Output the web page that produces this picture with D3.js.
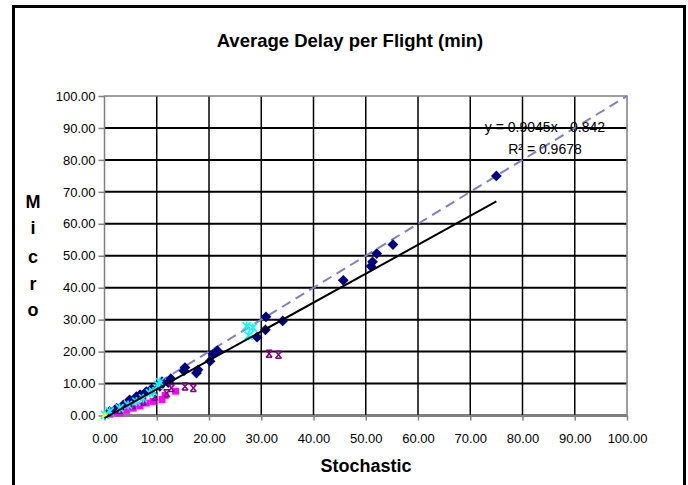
<!DOCTYPE html>
<html>
<head>
<meta charset="utf-8">
<script src="https://cdn.jsdelivr.net/npm/d3@7"></script>
<style>
  body { margin: 0; background: #fff; }
  svg { display: block; font-family: Arial, 'Liberation Sans', sans-serif; }
  .tick-label { font-size: 13px; fill: #000; }
  .eq-label { font-size: 14px; fill: #000; }
  .title { font-size: 18.5px; font-weight: bold; }
  .axis-title { font-size: 18px; font-weight: bold; }
</style>
</head>
<body>
<svg class="chart" width="688" height="485"></svg>
<script>
// values
const axisTicks = [0, 10, 20, 30, 40, 50, 60, 70, 80, 90, 100];

const diamondX = [75, 55.2, 52.1, 51.3, 51.0, 45.7, 34.1, 30.9, 30.8, 29.2, 21.6, 20.8, 20.2, 17.9, 17.6, 15.4, 15.2, 12.7, 12.2, 11.0, 10.6, 9.0, 8.0, 6.8, 6.1, 4.8, 3.6, 2.3, 1.0];
const diamondY = [75, 53.5, 50.7, 48.1, 46.7, 42.3, 29.6, 30.9, 26.8, 24.5, 20.3, 19.3, 17.0, 14.3, 13.3, 15.0, 14.0, 11.5, 10.3, 10.6, 9.1, 8.3, 7.5, 6.5, 5.9, 4.9, 3.3, 2.3, 1.3];

const squareX = [13.6, 11.6, 11.0, 9.3, 8.0, 6.8, 5.5, 4.2, 2.9, 2.0, 1.0];
const squareY = [7.6, 6.3, 5.0, 4.4, 3.9, 3.0, 2.3, 1.6, 0.8, 1.0, 0.4];

const barStarX = [33.3, 31.5, 17.0, 15.4, 12.8, 11.9, 9.6, 7.4, 5.4, 2.9];
const barStarY = [19.0, 19.3, 8.6, 9.1, 8.6, 7.0, 5.9, 4.4, 3.3, 1.8];

const starX = [28.4, 27.2, 27.6, 10.6, 10.3, 9.3, 8.7, 7.4, 6.1, 4.5, 2.9, 1.0, 0.1];
const starY = [27.5, 28.0, 25.0, 10.5, 9.6, 7.5, 7.0, 5.4, 4.4, 3.3, 2.3, 1.3, 0.2];

const triangleX = [0.1];
const triangleY = [0.0];

const trendSlope = 0.9045;
const trendIntercept = -0.842;
const trendRange = [0, 75];
const trendText = ['y = 0.9045x - 0.842', 'R² = 0.9678'];

const zip = (xs, ys) => xs.map((x, i) => ({ x, y: ys[i] }));

const startApp = () => {
  const svg = d3.select('.chart');
  const plot = { left: 104.5, right: 627, top: 96, bottom: 415.5 };
  const xScale = d3.scaleLinear().domain([0, 100]).range([plot.left, plot.right]);
  const yScale = d3.scaleLinear().domain([0, 100]).range([plot.bottom, plot.top]);

  // outer frame, open at the bottom
  svg.append('path')
    .attr('d', 'M13.5,490 V6.5 H684.5 V490')
    .attr('fill', 'none').attr('stroke', '#000').attr('stroke-width', 3);

  svg.append('text').attr('class', 'title')
    .attr('x', 350).attr('y', 47).attr('text-anchor', 'middle')
    .text('Average Delay per Flight (min)');

  svg.append('text').attr('class', 'axis-title')
    .attr('x', 366).attr('y', 472).attr('text-anchor', 'middle')
    .text('Stochastic');

  const microLetters = ['M', 'i', 'c', 'r', 'o'];
  const microY = [208, 234, 263, 290, 316];
  svg.selectAll('.micro').data(microLetters).enter().append('text')
    .attr('class', 'axis-title micro')
    .attr('x', 33).attr('y', (d, i) => microY[i]).attr('text-anchor', 'middle')
    .text(d => d);

  // gridlines
  const grid = svg.append('g');
  grid.selectAll('.hgrid').data(axisTicks.slice(0, -1)).enter().append('line')
    .attr('x1', plot.left).attr('x2', plot.right)
    .attr('y1', d => yScale(d)).attr('y2', d => yScale(d))
    .attr('stroke', '#000').attr('stroke-width', 2);
  grid.selectAll('.vgrid').data(axisTicks.slice(1, -1)).enter().append('line')
    .attr('y1', plot.top).attr('y2', plot.bottom)
    .attr('x1', d => xScale(d)).attr('x2', d => xScale(d))
    .attr('stroke', '#000').attr('stroke-width', 1.5);

  svg.append('rect')
    .attr('x', plot.left).attr('y', plot.top)
    .attr('width', plot.right - plot.left).attr('height', plot.bottom - plot.top)
    .attr('fill', 'none').attr('stroke', '#808080').attr('stroke-width', 1.5);

  // axes
  const xAxis = d3.axisBottom(xScale).tickValues(axisTicks).tickFormat(d3.format('.2f'))
    .tickSize(5).tickSizeOuter(0);
  const yAxis = d3.axisLeft(yScale).tickValues(axisTicks).tickFormat(d3.format('.2f'))
    .tickSize(6).tickSizeOuter(0);

  const gx = svg.append('g').attr('transform', `translate(0, ${plot.bottom})`).call(xAxis);
  const gy = svg.append('g').attr('transform', `translate(${plot.left}, 0)`).call(yAxis);
  [gx, gy].forEach(g => {
    g.select('.domain').remove();
    g.selectAll('.tick line').attr('stroke', '#808080').attr('stroke-width', 1.5);
    g.selectAll('.tick text').attr('class', 'tick-label').attr('font-family', null).attr('font-size', null);
  });
  gx.selectAll('.tick text').attr('dy', null).attr('y', 27);
  gy.selectAll('.tick text').attr('x', -9);

  // y = x reference
  svg.append('line')
    .attr('x1', xScale(0)).attr('y1', yScale(0)).attr('x2', xScale(100)).attr('y2', yScale(100))
    .attr('stroke', '#8080c0').attr('stroke-width', 2).attr('stroke-dasharray', '10,6');

  // markers
  const marks = svg.append('g');
  const square = d3.symbol().type(d3.symbolSquare).size(48);
  marks.selectAll('.sq').data(zip(squareX, squareY)).enter().append('path')
    .attr('d', square)
    .attr('transform', d => `translate(${xScale(d.x)},${yScale(d.y)})`)
    .attr('fill', '#ff00ff');

  const diamond = d3.symbol().type(d3.symbolSquare).size(58);
  marks.selectAll('.dia').data(zip(diamondX, diamondY)).enter().append('path')
    .attr('d', diamond)
    .attr('transform', d => `translate(${xScale(d.x)},${yScale(d.y)}) rotate(45)`)
    .attr('fill', '#000080');

  const barStar = 'M-3,-3.5 H3 M-3,3.5 H3 M-3,-3.5 L3,3.5 M3,-3.5 L-3,3.5';
  marks.selectAll('.bs').data(zip(barStarX, barStarY)).enter().append('path')
    .attr('d', barStar)
    .attr('transform', d => `translate(${xScale(d.x)},${yScale(d.y)})`)
    .attr('fill', 'none').attr('stroke', '#800080').attr('stroke-width', 1.5);

  const star = 'M-4,-4 L4,4 M4,-4 L-4,4 M0,-4.5 V4.5';
  marks.selectAll('.st').data(zip(starX, starY)).enter().append('path')
    .attr('d', star)
    .attr('transform', d => `translate(${xScale(d.x)},${yScale(d.y)})`)
    .attr('fill', 'none').attr('stroke', '#00ffff').attr('stroke-width', 1.6);

  const triangle = d3.symbol().type(d3.symbolTriangle).size(20);
  marks.selectAll('.tri').data(zip(triangleX, triangleY)).enter().append('path')
    .attr('d', triangle)
    .attr('transform', d => `translate(${xScale(d.x)},${yScale(d.y)})`)
    .attr('fill', '#ffff00');

  // linear trendline
  svg.append('line')
    .attr('x1', xScale(trendRange[0])).attr('y1', yScale(trendSlope * trendRange[0] + trendIntercept))
    .attr('x2', xScale(trendRange[1])).attr('y2', yScale(trendSlope * trendRange[1] + trendIntercept))
    .attr('stroke', '#000').attr('stroke-width', 2);

  svg.selectAll('.eq').data(trendText).enter().append('text')
    .attr('class', 'eq-label')
    .attr('x', 545).attr('y', (d, i) => 132 + i * 22)
    .attr('text-anchor', 'middle')
    .text(d => d);
};

window.onload = startApp;
</script>
</body>
</html>
